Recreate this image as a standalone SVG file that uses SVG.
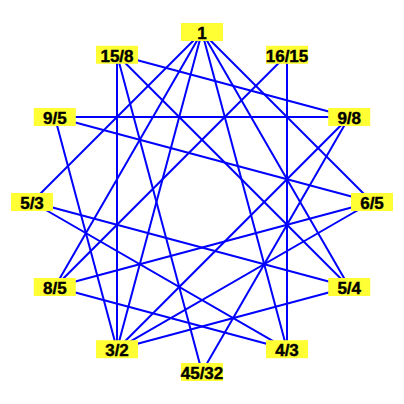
<svg xmlns="http://www.w3.org/2000/svg" width="404" height="404" viewBox="0 0 404 404">
<style>
.e{stroke:#0000ff;stroke-width:2;fill:none}
.b{fill:#ffff33}
.t{font-family:"Liberation Sans",Arial,sans-serif;font-weight:bold;font-size:17px;fill:#000;stroke:#000;stroke-width:0.4px;text-anchor:middle}
</style>
<rect width="404" height="404" fill="#fff"/>
<g id="connectors">
<line class="e" x1="202" y1="32" x2="372" y2="202"/>
<line class="e" x1="202" y1="32" x2="349.2" y2="287"/>
<line class="e" x1="202" y1="32" x2="287" y2="349.2"/>
<line class="e" x1="202" y1="32" x2="117" y2="349.2"/>
<line class="e" x1="202" y1="32" x2="54.8" y2="287"/>
<line class="e" x1="202" y1="32" x2="32" y2="202"/>
<line class="e" x1="287" y1="54.8" x2="287" y2="349.2"/>
<line class="e" x1="287" y1="54.8" x2="54.8" y2="287"/>
<line class="e" x1="349.2" y1="117" x2="202" y2="372"/>
<line class="e" x1="349.2" y1="117" x2="117" y2="349.2"/>
<line class="e" x1="349.2" y1="117" x2="54.8" y2="117"/>
<line class="e" x1="349.2" y1="117" x2="117" y2="54.8"/>
<line class="e" x1="372" y1="202" x2="117" y2="349.2"/>
<line class="e" x1="372" y1="202" x2="54.8" y2="287"/>
<line class="e" x1="372" y1="202" x2="54.8" y2="117"/>
<line class="e" x1="349.2" y1="287" x2="117" y2="349.2"/>
<line class="e" x1="349.2" y1="287" x2="32" y2="202"/>
<line class="e" x1="349.2" y1="287" x2="117" y2="54.8"/>
<line class="e" x1="287" y1="349.2" x2="54.8" y2="287"/>
<line class="e" x1="287" y1="349.2" x2="32" y2="202"/>
<line class="e" x1="202" y1="372" x2="117" y2="54.8"/>
<line class="e" x1="117" y1="349.2" x2="54.8" y2="117"/>
<line class="e" x1="117" y1="349.2" x2="117" y2="54.8"/>
</g>
<g id="n0"><rect class="b" x="181" y="23" width="42" height="18"/><text class="t" x="202" y="39">1</text></g>
<g id="n1"><rect class="b" x="266" y="45.8" width="42" height="18"/><text class="t" x="287" y="61.8">16/15</text></g>
<g id="n2"><rect class="b" x="328.2" y="108" width="42" height="18"/><text class="t" x="349.2" y="124">9/8</text></g>
<g id="n3"><rect class="b" x="351" y="193" width="42" height="18"/><text class="t" x="372" y="209">6/5</text></g>
<g id="n4"><rect class="b" x="328.2" y="278" width="42" height="18"/><text class="t" x="349.2" y="294">5/4</text></g>
<g id="n5"><rect class="b" x="266" y="340.2" width="42" height="18"/><text class="t" x="287" y="356.2">4/3</text></g>
<g id="n6"><rect class="b" x="181" y="363" width="42" height="18"/><text class="t" x="202" y="379">45/32</text></g>
<g id="n7"><rect class="b" x="96" y="340.2" width="42" height="18"/><text class="t" x="117" y="356.2">3/2</text></g>
<g id="n8"><rect class="b" x="33.8" y="278" width="42" height="18"/><text class="t" x="54.8" y="294">8/5</text></g>
<g id="n9"><rect class="b" x="11" y="193" width="42" height="18"/><text class="t" x="32" y="209">5/3</text></g>
<g id="n10"><rect class="b" x="33.8" y="108" width="42" height="18"/><text class="t" x="54.8" y="124">9/5</text></g>
<g id="n11"><rect class="b" x="96" y="45.8" width="42" height="18"/><text class="t" x="117" y="61.8">15/8</text></g>
</svg>
